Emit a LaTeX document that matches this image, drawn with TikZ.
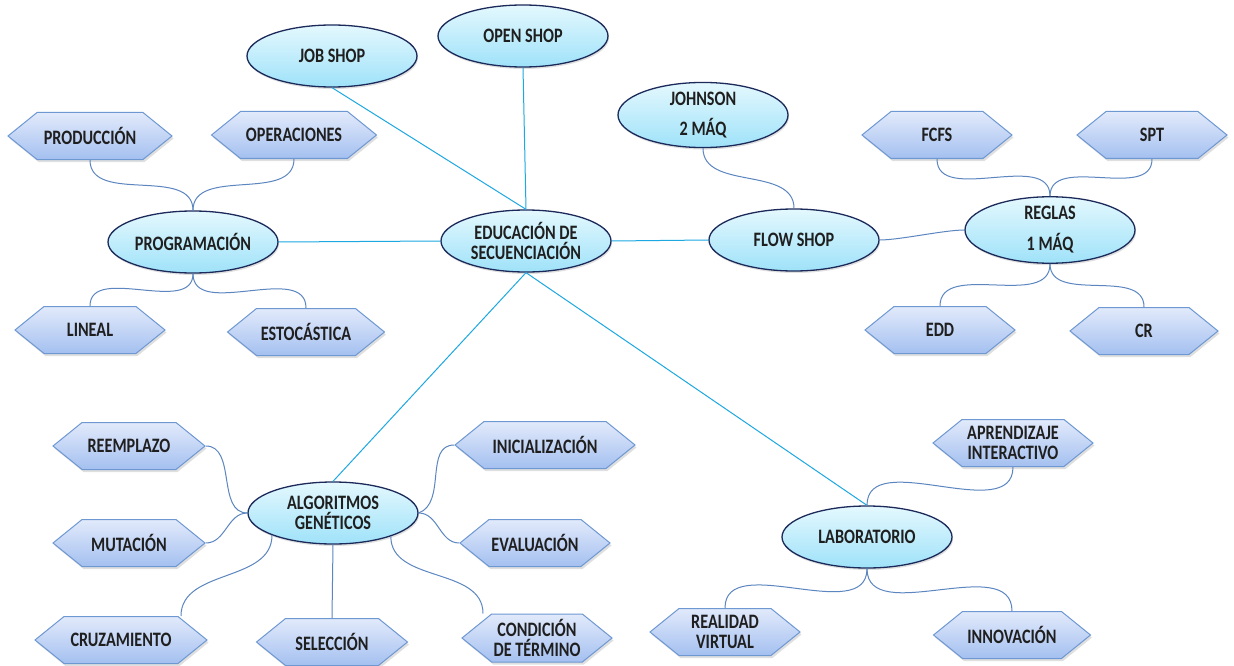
\documentclass[tikz,border=0pt]{standalone}
\usepackage{fontspec}
\newfontfamily\lbl{Carlito}[FakeStretch=0.79]
\usetikzlibrary{shapes.geometric,shapes.symbols,shadows}
\definecolor{ellBorder}{HTML}{1B2A5A}
\definecolor{ellTop}{HTML}{E4F8FE}
\definecolor{ellBot}{HTML}{9FE2F9}
\definecolor{hexBorder}{HTML}{6E98D2}
\definecolor{hexTop}{HTML}{E2EAFB}
\definecolor{hexBot}{HTML}{A4C0F0}
\definecolor{mainLine}{HTML}{1DA8E2}
\definecolor{subLine}{HTML}{5B86C0}
\begin{document}
\begin{tikzpicture}[x=1pt,y=1pt,
  lblfont/.style={font=\lbl\bfseries\fontsize{20.5pt}{20pt}\selectfont, text=black!88},
  ell/.style={ellipse, draw=ellBorder, line width=1.3pt, top color=ellTop, bottom color=ellBot,
    minimum width=170pt, minimum height=62pt, inner sep=0pt, align=center, lblfont,
    drop shadow={shadow xshift=1pt, shadow yshift=-2pt, opacity=0.25}},
  hex/.style={signal, signal to=west and east, signal pointer angle=78, draw=hexBorder, line width=1pt,
    top color=hexTop, bottom color=hexBot, minimum height=47pt, minimum width=152pt, inner sep=0pt,
    align=center, lblfont,
    drop shadow={shadow xshift=1.5pt, shadow yshift=-2.5pt, opacity=0.25}},
  mainconn/.style={draw=mainLine, line width=1pt},
  subconn/.style={draw=subLine, line width=1pt}]
\fill[white] (0,0) rectangle (1234,-666);
\useasboundingbox (0,0) rectangle (1234,-666);

% ellipses
\node[ell] (job) at (332,-56) {JOB SHOP};
\node[ell] (open) at (523,-36) {OPEN SHOP};
\node[ell, minimum height=63pt] (john) at (703,-115) {JOHNSON\\[10pt]2 MÁQ};
\node[ell] (flow) at (794,-240) {FLOW SHOP};
\node[ell, minimum height=64pt] (reg) at (1050,-230) {REGLAS\\[11pt]1 MÁQ};
\node[ell] (edu) at (526,-241) {EDUCACIÓN DE\\SECUENCIACIÓN};
\node[ell] (prog) at (193,-242) {PROGRAMACIÓN};
\node[ell] (alg) at (333,-513) {ALGORITMOS\\GENÉTICOS};
\node[ell] (lab) at (867,-537) {LABORATORIO};

% hexagons
\node[hex, minimum width=164pt] (prod) at (90,-136) {PRODUCCIÓN};
\node[hex, minimum width=165pt] (oper) at (294,-135) {OPERACIONES};
\node[hex, minimum width=150pt] (lineal) at (90,-330) {LINEAL};
\node[hex, minimum width=157pt] (esto) at (306,-332) {ESTOCÁSTICA};
\node[hex, minimum width=150pt] (fcfs) at (937,-135) {FCFS};
\node[hex, minimum width=150pt] (spt) at (1152,-135) {SPT};
\node[hex, minimum width=150pt] (edd) at (940,-330) {EDD};
\node[hex, minimum width=148pt] (cr) at (1144,-331) {CR};
\node[hex] (reem) at (129,-446) {REEMPLAZO};
\node[hex] (mut) at (129,-543) {MUTACIÓN};
\node[hex, minimum width=172pt] (cruz) at (121,-640) {CRUZAMIENTO};
\node[hex, minimum width=151pt] (sel) at (332,-642) {SELECCIÓN};
\node[hex, minimum width=150pt, minimum height=48pt] (cond) at (537,-638) {CONDICIÓN\\DE TÉRMINO};
\node[hex, minimum width=180pt] (ini) at (545,-445) {INICIALIZACIÓN};
\node[hex, minimum width=150pt] (eval) at (535,-543) {EVALUACIÓN};
\node[hex, minimum width=160pt] (apr) at (1013,-443) {APRENDIZAJE\\INTERACTIVO};
\node[hex, minimum width=150pt] (real) at (725,-632) {REALIDAD\\VIRTUAL};
\node[hex, minimum width=157pt] (innov) at (1012,-635) {INNOVACIÓN};

% main connectors
\path[mainconn] (edu.north) -- (job.south);
\path[mainconn] (edu.north) -- (open.south);
\path[mainconn] (prog.east) -- (edu.west);
\path[mainconn] (edu.east) -- (flow.west);
\path[mainconn] (edu.south) -- (alg.north);
\path[mainconn] (edu.south) -- (lab.north);

% sub connectors
\path[subconn] (john.south) to[out=-90,in=90] (flow.north);
\path[subconn] (flow.east) to[out=0,in=180,looseness=0.6] (reg.west);
\path[subconn] (fcfs.south) to[out=-90,in=90] (reg.north);
\path[subconn] (spt.south) to[out=-90,in=90] (reg.north);
\path[subconn] (reg.south) to[out=-90,in=90] (edd.north);
\path[subconn] (reg.south) to[out=-90,in=90] (cr.north);
\path[subconn] (prod.south) to[out=-90,in=90] (prog.north);
\path[subconn] (oper.south) to[out=-90,in=90] (prog.north);
\path[subconn] (prog.south) to[out=-90,in=90] (lineal.north);
\path[subconn] (prog.south) to[out=-90,in=90] (esto.north);
\path[subconn] (reem.east) to[out=0,in=180] (alg.west);
\path[subconn] (mut.east) to[out=0,in=180] (alg.west);
\path[subconn] ([xshift=60pt]cruz.north) to[out=90,in=-90] (alg.200);
\path[subconn] (alg.south) -- (sel.north);
\path[subconn] (alg.-22) to[out=-90,in=90] ([xshift=-54pt]cond.north);
\path[subconn] (alg.east) to[out=20,in=180] (ini.west);
\path[subconn] (alg.east) to[out=0,in=180] (eval.west);
\path[subconn] (lab.north) to[out=90,in=-90] (apr.south);
\path[subconn] (lab.south) to[out=-90,in=90] (real.north);
\path[subconn] (lab.south) to[out=-90,in=90] (innov.north);
\end{tikzpicture}
\end{document}
